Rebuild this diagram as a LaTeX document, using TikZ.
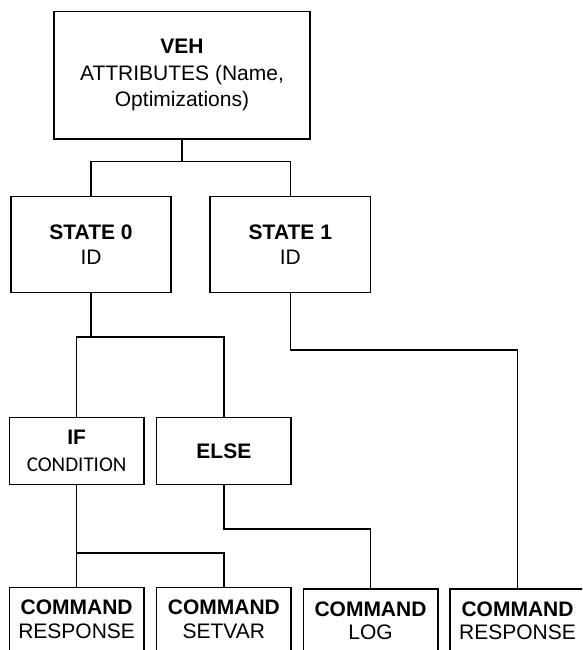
\documentclass[tikz,border=0pt]{standalone}
\usepackage{fontspec}
\setmainfont{Liberation Sans}
\newfontfamily\calfont{Carlito}
\begin{document}
\begin{tikzpicture}[x=1pt,y=-1pt,
  box/.style={draw, line width=1.5pt, inner sep=0pt, align=center},
  conn/.style={line width=1.5pt},
  vehfont/.style={font=\fontsize{21}{26.6}\selectfont},
  statefont/.style={font=\fontsize{21}{25}\selectfont},
  iffont/.style={font=\fontsize{21}{27}\selectfont},
  cmdfont/.style={font=\fontsize{21}{23.3}\selectfont},
  cmdbox/.style={box, cmdfont, anchor=north, minimum width=134.5pt, text height=50.6pt, text depth=60pt}]
\useasboundingbox (0,0) rectangle (582,650);
\clip (0,0) rectangle (582,650);
% boxes
\node[box, vehfont, minimum width=256pt, minimum height=127.3pt] (veh) at (182,75.35)
  {\textbf{VEH}\\ATTRIBUTES (Name,\\Optimizations)};
\node[box, statefont, minimum width=160pt, minimum height=96pt] (s0) at (91,244.7)
  {\textbf{STATE 0}\\ID};
\node[box, statefont, minimum width=160.7pt, minimum height=96pt] (s1) at (290.35,244.7)
  {\textbf{STATE 1}\\ID};
\node[box, iffont, minimum width=134.7pt, minimum height=67.4pt] (ifn) at (76.65,451)
  {\textbf{IF}\\{\calfont CONDITION}};
\node[box, iffont, minimum width=134.3pt, minimum height=67pt] (elsen) at (223.85,450.8)
  {\textbf{ELSE}};
\node[cmdbox] (c1) at (76.65,586.7) {\textbf{COMMAND}\\RESPONSE};
\node[cmdbox] (c2) at (223.85,586.7) {\textbf{COMMAND}\\SETVAR};
\node[cmdbox] (c3) at (370.5,588.3) {\textbf{COMMAND}\\LOG};
\node[cmdbox, minimum width=135pt] (c4) at (517.5,588.3) {\textbf{COMMAND}\\RESPONSE};
% connectors
\draw[conn] (veh.south) -- ++(0,21.7) -| (s0.north);
\draw[conn] (veh.south) -- ++(0,21.7) -| (s1.north);
\draw[conn] (s0.south) -- ++(0,43.6) -| (ifn.north);
\draw[conn] (s0.south) -- ++(0,43.6) -| (elsen.north);
\draw[conn] (s1.south) -- ++(0,56.6) -| (c4.north);
\draw[conn] (ifn.south) -- ++(0,67.3) -| (c1.north);
\draw[conn] (ifn.south) -- ++(0,67.3) -| (c2.north);
\draw[conn] (elsen.south) -- ++(0,44) -| (c3.north);
\end{tikzpicture}
\end{document}
